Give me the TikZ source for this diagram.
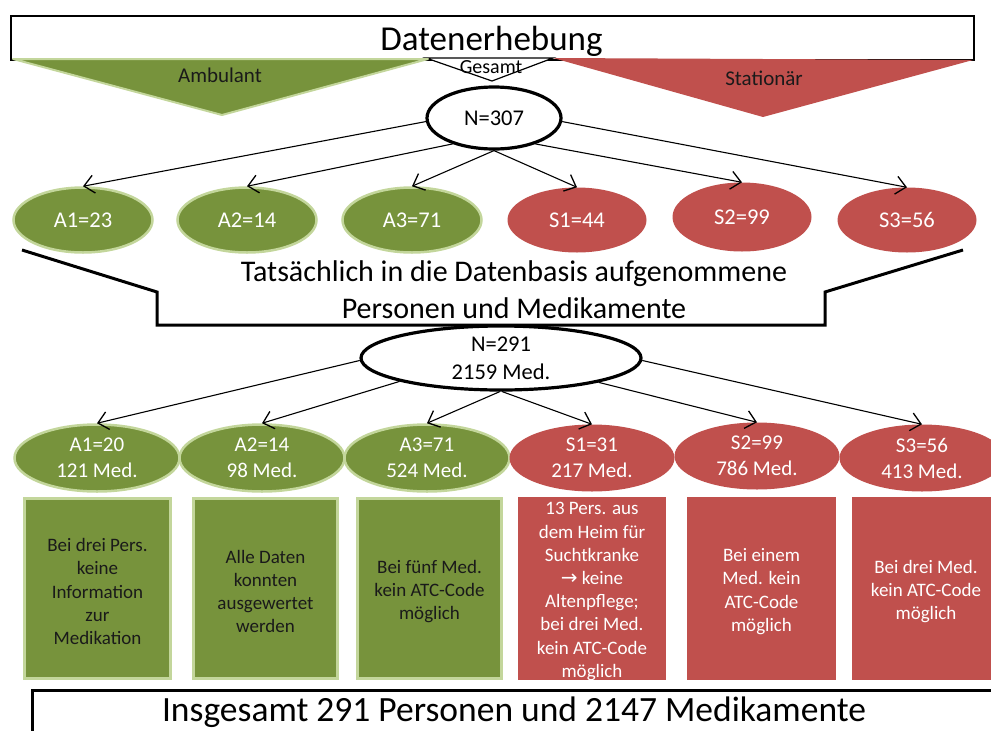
\documentclass[tikz,border=0pt]{standalone}
\usepackage{fontspec}
\setmainfont{Carlito}
\newfontfamily\symfont{DejaVu Sans}
\usetikzlibrary{shapes.geometric,arrows.meta}
\definecolor{gfill}{HTML}{77933C}
\definecolor{gedge}{HTML}{C3D69B}
\definecolor{rfill}{HTML}{C0504D}
\definecolor{ink}{HTML}{1A1A1A}
\begin{document}
\begin{tikzpicture}[x=1pt,y=-1pt,
  arr/.style={line width=1.1pt, -{Straight Barb[length=10pt,width=18pt,line width=1.3pt]}},
  gell/.style={ellipse, fill=gfill, draw=gedge, line width=2.5pt, inner sep=0pt, text=white},
  rell/.style={ellipse, fill=rfill, inner sep=0pt, text=white},
  rowone/.style={minimum width=139pt, minimum height=65pt, font=\fontsize{22.5}{27}\selectfont},
  rowtwo/.style={minimum width=165pt, minimum height=67pt, align=center, font=\fontsize{21}{26}\selectfont},
  bigell/.style={ellipse, draw=black, line width=3.2pt, fill=white, inner sep=0pt, align=center, font=\fontsize{22.5}{28}\selectfont},
  gbox/.style={rectangle, fill=gfill, draw=gedge, line width=2.5pt, minimum height=180pt, inner sep=0pt},
  rbox/.style={rectangle, fill=rfill, minimum height=183pt, inner sep=0pt},
  btxt/.style={align=center, font=\fontsize{19}{23.2}\selectfont, inner sep=0pt},
  thick3/.style={line width=3pt, line join=miter}
]
\useasboundingbox (0,0) rectangle (991,731);
\clip (0,0) rectangle (991,731);

% header box
\draw[line width=2.5pt, fill=white] (11,16) rectangle (974,60);
\node[anchor=base, font=\fontsize{35}{40}\selectfont] (title) at (491.5,50) {Datenerhebung};

% Gesamt triangle
\draw[line width=1.2pt, fill=white, line join=miter] (426,58) -- (553,58) -- (492,81) -- cycle;
\node[anchor=base, font=\fontsize{20}{24}\selectfont, inner sep=0pt] (gesamt) at (491,73.5) {Gesamt};

% Ambulant / Stationaer triangles
\draw[fill=gfill, draw=gedge, line width=2pt, line join=round] (13,59) -- (428,59) -- (222,115) -- cycle;
\node[anchor=base, font=\fontsize{21}{25}\selectfont, text=ink] (amb) at (220,82) {Ambulant};
\fill[rfill] (553,58) -- (973,60) -- (763,117) -- cycle;
\node[anchor=base, font=\fontsize{21}{25}\selectfont, text=ink] (stat) at (764,85) {Stationär};

% N=307
\node[bigell, minimum width=134pt, minimum height=62pt] (n307) at (494,118) {N=307};

% row 1
\node[gell, rowone] (a1) at (83,220) {A1=23};
\node[gell, rowone] (a2) at (247,220) {A2=14};
\node[gell, rowone] (a3) at (412,220) {A3=71};
\node[rell, rowone] (s1) at (577,220) {S1=44};
\node[rell, rowone, minimum height=69pt] (s2) at (742,217) {S2=99};
\node[rell, rowone] (s3) at (907,220) {S3=56};

\draw[arr] (n307.183) -- (a1.north);
\draw[arr] (n307.212) -- (a2.north);
\draw[arr] (n307.270) -- (a3.north);
\draw[arr] (n307.270) -- (s1.north);
\draw[arr] (n307.328) -- (s2.north);
\draw[arr] (n307.357) -- (s3.north);

% Tatsaechlich bracket
\draw[thick3] (22,250) -- (157,292) -- (157,325) -- (825,325) -- (825,292) -- (963,250);
\node[anchor=base, font=\fontsize{30}{36}\selectfont, inner sep=0pt] (tat1) at (514,281) {Tatsächlich in die Datenbasis aufgenommene};
\node[anchor=base, font=\fontsize{30}{36}\selectfont, inner sep=0pt] (tat2) at (514,318) {Personen und Medikamente};

% N=291
\node[bigell, minimum width=280pt, minimum height=64pt] (n291) at (501,358) {N=291\\2159 Med.};

% row 2
\node[gell, rowtwo] (b1) at (97,458) {A1=20\\121 Med.};
\node[gell, rowtwo] (b2) at (262,458) {A2=14\\98 Med.};
\node[gell, rowtwo] (b3) at (427,458) {A3=71\\524 Med.};
\node[rell, rowtwo] (t1) at (592,458) {S1=31\\217 Med.};
\node[rell, rowtwo] (t2) at (757,456) {S2=99\\786 Med.};
\node[rell, rowtwo] (t3) at (922,458) {S3=56\\413 Med.};

\draw[arr] (n291.181) -- (b1.north);
\draw[arr] (n291.193) -- (b2.north);
\draw[arr] (n291.268) -- (b3.north);
\draw[arr] (n291.272) -- (t1.north);
\draw[arr] (n291.346) -- (t2.north);
\draw[arr] (n291.359) -- (t3.north);

% boxes
\node[gbox, minimum width=146pt] (c1) at (97.5,588.5) {};
\node[gbox, minimum width=144pt] (c2) at (265.5,588.5) {};
\node[gbox, minimum width=144pt] (c3) at (429.5,588.5) {};
\node[rbox, minimum width=148pt] (d1) at (592,588.5) {};
\node[rbox, minimum width=149pt] (d2) at (761.5,588.5) {};
\node[rbox, minimum width=148pt] (d3) at (926,588.5) {};

\node[btxt, text=ink] (c1t) at ([yshift=-3pt]c1.center) {Bei drei Pers.\\keine\\Information\\zur\\Medikation};
\node[btxt, text=ink] (c2t) at ([yshift=-3pt]c2.center) {Alle Daten\\konnten\\ausgewertet\\werden};
\node[btxt, text=ink] (c3t) at ([yshift=-3pt]c3.center) {Bei fünf Med.\\kein ATC-Code\\möglich};
\node[btxt, text=white] (d1t) at ([yshift=-3pt]d1.center) {13 Pers. aus\\dem Heim für\\Suchtkranke\\{\symfont\fontsize{20}{23.2}\selectfont →} keine\\Altenpflege;\\bei drei Med.\\kein ATC-Code\\möglich};
\node[btxt, text=white] (d2t) at ([yshift=-3pt]d2.center) {Bei einem\\Med. kein\\ATC-Code\\möglich};
\node[btxt, text=white] (d3t) at ([yshift=-3pt]d3.center) {Bei drei Med.\\kein ATC-Code\\möglich};

% bottom box
\draw[thick3] (32,690) rectangle (1000,760);
\node[anchor=base, font=\fontsize{35.5}{40}\selectfont, inner sep=0pt] (total) at (514,721.5) {Insgesamt 291 Personen und 2147 Medikamente};
\end{tikzpicture}
\end{document}
